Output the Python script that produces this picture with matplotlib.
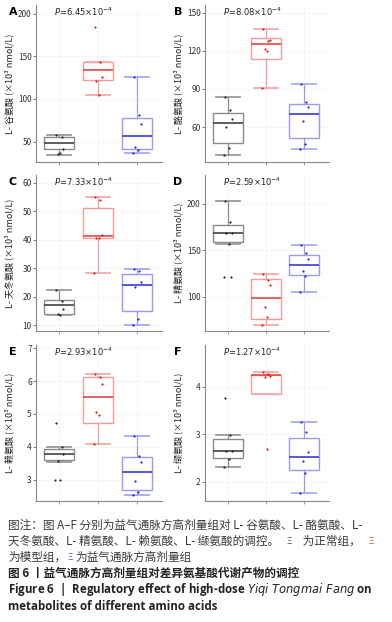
import matplotlib
matplotlib.use("Agg")
import matplotlib.pyplot as plt

plt.rcParams['font.family'] = ['Noto Sans CJK SC', 'DejaVu Sans']

W, H = 392, 622

groups = ['正常组', '模型组', '高剂量组']
panel_letters = ['A', 'B', 'C', 'D', 'E', 'F']
ylabels = ['L- 谷氨酸 (×10³ nmol/L)', 'L- 酪氨酸 (×10³ nmol/L)', 'L- 天冬氨酸 (×10³ nmol/L)',
           'L- 精氨酸 (×10³ nmol/L)', 'L- 赖氨酸 (×10³ nmol/L)', 'L- 缬氨酸 (×10³ nmol/L)']
pvalues = ['6.45', '8.08', '7.33', '2.59', '2.93', '1.27']
pexps = ['4', '4', '4', '4', '4', '4']
yticks = [[50, 100, 150, 200], [60, 90, 120, 150], [10, 20, 30, 40, 50, 60],
          [100, 150, 200], [3, 4, 5, 6, 7], [2, 3, 4]]
ylims = [(26, 210), (32.5, 156), (7.9, 62.7), (63, 231), (2.35, 7.1), (1.6, 4.87)]

# box stats per panel, per group: (whisker low, q1, median, q3, whisker high)
box_A = [(34.4, 41, 48, 55.5, 57.8), (104, 121.9, 134.3, 143, 143), (36.4, 41, 57, 78, 125.8)]
box_B = [(38.3, 47.7, 63.1, 71.2, 83.3), (90.9, 113.9, 125, 129.7, 137), (42.5, 51.1, 70, 78.3, 93.5)]
box_C = [(13.5, 14, 16.9, 18.7, 22.3), (28.1, 40.5, 41.2, 51, 54.8), (10.1, 15, 24.2, 28, 29.8)]
box_D = [(156.2, 159, 168.7, 177.6, 202.5), (69.8, 76.2, 98.2, 118.9, 124.2), (104.6, 123.1, 133.8, 145.2, 155.5)]
box_E = [(3.55, 3.61, 3.78, 3.93, 4.0), (4.08, 4.73, 5.52, 6.12, 6.23), (2.54, 2.69, 3.23, 3.68, 4.34)]
box_F = [(2.32, 2.51, 2.65, 2.9, 2.99), (3.84, 3.84, 4.25, 4.25, 4.3), (1.76, 2.24, 2.53, 2.93, 3.25)]
boxes = [box_A, box_B, box_C, box_D, box_E, box_F]

# individual sample points
pts_A = [[57.5, 55.5, 41.4, 35.2, 36], [184, 143, 126, 121, 104], [126, 81, 70, 43, 40, 37]]
pts_B = [[83.3, 73.4, 66.5, 60.3, 43.9, 38.3], [137, 127.8, 128.3, 121.5, 119.7, 90.9],
         [93.5, 79.6, 75.5, 64.5, 46.4, 42.5]]
pts_C = [[22.3, 18.6, 15.5, 13.8, 13.5], [54.8, 54, 41.6, 40.4, 40.4, 28.1],
         [29.8, 29.1, 25.1, 23.3, 12.2, 10.1]]
pts_D = [[202.5, 180.4, 168.7, 168.7, 156.2, 121, 121], [124.2, 117.8, 112.8, 88.6, 77.9, 69.8],
         [155.5, 146.6, 140.2, 127.4, 121.7, 104.6]]
pts_E = [[4.73, 4.0, 3.77, 3.57, 3.0, 3.0], [6.22, 6.12, 5.9, 5.06, 4.96, 4.08],
         [4.34, 3.72, 3.53, 2.96, 2.61, 2.54]]
pts_F = [[3.76, 2.98, 2.65, 2.65, 2.47, 2.32], [4.3, 4.27, 4.22, 4.2, 2.70],
         [3.25, 3.04, 2.63, 2.44, 2.18, 1.76]]
points = [pts_A, pts_B, pts_C, pts_D, pts_E, pts_F]

edge_colors = ['#8a8a8a', '#f39a9a', '#9a9af2']
cap_colors = ['#9a9a9a', '#f5aaaa', '#a8a8f4']
med_colors = ['#444444', '#e04848', '#3a3ad8']
dot_colors = ['#222222', '#e01818', '#2020e0']
jitter = [-0.08, 0.06, 0.1, -0.04, 0.02, -0.1, 0.08]

# axes rectangles in pixels
col_x = [(36, 162), (205, 329)]
row_y = [(5, 162), (175, 331), (345, 501)]

fig = plt.figure(figsize=(W / 100, H / 100), dpi=100)

for i in range(6):
    r, c = divmod(i, 2)
    x0, x1 = col_x[c]
    y0, y1 = row_y[r]
    ax = fig.add_axes([x0 / W, 1 - y1 / H, (x1 - x0) / W, (y1 - y0) / H])

    for g in range(3):
        b = boxes[i][g]
        st = dict(whislo=b[0], q1=b[1], med=b[2], q3=b[3], whishi=b[4], fliers=[])
        ax.bxp([st], positions=[g + 1], widths=0.78, capwidths=0.62, showfliers=False,
               patch_artist=True,
               boxprops=dict(facecolor='white', edgecolor=edge_colors[g], linewidth=1.0),
               whiskerprops=dict(color=edge_colors[g], linewidth=0.9),
               capprops=dict(color=cap_colors[g], linewidth=1.3),
               medianprops=dict(color=med_colors[g], linewidth=1.2))
        vals = points[i][g]
        xs = [g + 1 + jitter[k % len(jitter)] for k in range(len(vals))]
        ax.scatter(xs, vals, s=2.5, color=dot_colors[g], zorder=5, linewidths=0)

    ax.set_xlim(0.4, 3.65)
    ax.set_ylim(*ylims[i])
    ax.set_yticks(yticks[i])
    ax.set_xticks([1, 2, 3])
    ax.set_xticklabels([])
    ax.grid(True, color='#f4f4f4', linewidth=0.6)
    ax.set_axisbelow(True)
    for s in ['top', 'right']:
        ax.spines[s].set_visible(False)
    for s in ['left', 'bottom']:
        ax.spines[s].set_color('#888888')
        ax.spines[s].set_linewidth(0.8)
    ax.tick_params(axis='y', labelsize=6, length=2, width=0.6, color='#666666',
                   labelcolor='#333333', pad=1)
    ax.tick_params(axis='x', length=2, width=0.6, color='#888888')
    ax.set_ylabel(ylabels[i], fontsize=6.5, color='#222222')
    ax.yaxis.set_label_coords(-(x0 - (14 if c == 0 else 183)) / (x1 - x0), 0.5)
    ax.text(0.38, 0.955, '$P$=' + pvalues[i] + '×10$^{-' + pexps[i] + '}$',
            transform=ax.transAxes, fontsize=6, ha='center', va='center',
            family='DejaVu Sans', color='#222222')
    lx = 13 if c == 0 else 178
    fig.text(lx / W, 1 - (y0 + 7) / H, panel_letters[i], fontsize=8, fontweight='bold',
             ha='center', va='center', family='DejaVu Sans')

# caption, drawn segment by segment
renderer = fig.canvas.get_renderer()
cap_col = '#3a3a3a'


def line(y, segs, x=8, right=None):
    texts = []
    for s, col, size in segs:
        t = fig.text(x / W, 1 - y / H, s, fontsize=size, color=col, va='center')
        x += t.get_window_extent(renderer).width
        texts.append(t)
    if right is not None and len(texts) > 1:
        # spread the remaining space evenly between segments
        extra = (right - x) / (len(texts) - 1)
        for k, t in enumerate(texts):
            px, py = t.get_position()
            t.set_position((px + k * extra / W, py))
    return texts


line(525, [('图注：图 A–F 分别为益气通脉方高剂量组对 L- 谷氨酸、L- 酪氨酸、L-', cap_col, 8.4)])
line(541, [('天冬氨酸、L- 精氨酸、L- 赖氨酸、L- 缬氨酸的调控。', cap_col, 8.4),
           ('Ξ', '#555555', 6.5), (' 为正常组，', cap_col, 8.4), ('Ξ', '#e04040', 6.5)],
     right=374)
line(557, [('为模型组，', cap_col, 8.4), (' Ξ ', '#5050c0', 6.5), ('为益气通脉方高剂量组', cap_col, 8.4)])
fig.text(8 / W, 1 - 573 / H, '图 6 丨益气通脉方高剂量组对差异氨基酸代谢产物的调控',
         fontsize=8.4, color='#222222', va='center', fontweight='bold')
fig.text(8 / W, 1 - 590 / H,
         r'Figure 6  |  Regulatory effect of high-dose $\bf\it{Yiqi\ Tongmai\ Fang}$ on',
         fontsize=8.3, color='#222222', va='center', fontweight='bold', family='Open Sans')
fig.text(8 / W, 1 - 606 / H, 'metabolites of different amino acids',
         fontsize=8.3, color='#222222', va='center', fontweight='bold', family='Open Sans')

fig.savefig('out.png', dpi=100)
